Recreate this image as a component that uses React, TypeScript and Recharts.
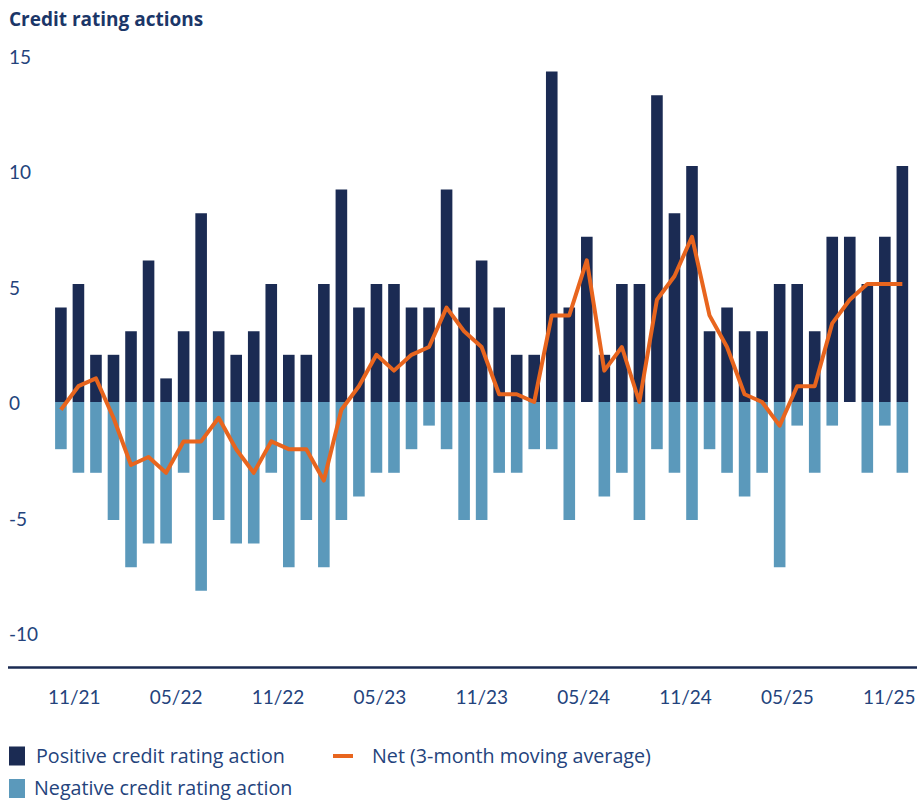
import React from 'react';
import { ComposedChart, Bar, Line, XAxis, YAxis } from 'recharts';

const months = [
  '11/21', '12/21',
  '01/22', '02/22', '03/22', '04/22', '05/22', '06/22', '07/22', '08/22', '09/22', '10/22', '11/22', '12/22',
  '01/23', '02/23', '03/23', '04/23', '05/23', '06/23', '07/23', '08/23', '09/23', '10/23', '11/23', '12/23',
  '01/24', '02/24', '03/24', '04/24', '05/24', '06/24', '07/24', '08/24', '09/24', '10/24', '11/24', '12/24',
  '01/25', '02/25', '03/25', '04/25', '05/25', '06/25', '07/25', '08/25', '09/25', '10/25', '11/25',
];

const positive = [
  4, 5, 2, 2, 3, 6, 1, 3, 8, 3,
  2, 3, 5, 2, 2, 5, 9, 4, 5, 5,
  4, 4, 9, 4, 6, 4, 2, 2, 14, 4,
  7, 2, 5, 5, 13, 8, 10, 3, 4, 3,
  3, 5, 5, 3, 7, 7, 5, 7, 10,
];

const negative = [
  -2, -3, -3, -5, -7, -6, -6, -3, -8, -5,
  -6, -6, -3, -7, -5, -7, -5, -4, -3, -3,
  -2, -1, -2, -5, -5, -3, -3, -2, -2, -5,
  0, -4, -3, -5, -2, -3, -5, -2, -3, -4,
  -3, -7, -1, -3, -1, 0, -3, -1, -3,
];

const netAverage = [
  -0.33, 0.67, 1.0, -0.67, -2.67, -2.33, -3.0, -1.67, -1.67, -0.67,
  -2.0, -3.0, -1.67, -2.0, -2.0, -3.33, -0.33, 0.67, 2.0, 1.33,
  2.0, 2.33, 4.0, 3.0, 2.33, 0.33, 0.33, 0.0, 3.67, 3.67,
  6.0, 1.33, 2.33, 0.0, 4.33, 5.33, 7.0, 3.67, 2.33, 0.33,
  0.0, -1.0, 0.67, 0.67, 3.33, 4.33, 5.0, 5.0, 5.0,
];

const yTickValues = [15, 10, 5, 0, -5, -10];

const data = months.map((m, i) => ({
  month: m,
  positive: positive[i],
  negative: negative[i],
  net: netAverage[i],
}));

const NAVY = '#1b2b53';
const LIGHT = '#5b99bb';
const ORANGE = '#e8651e';
const TEXT = '#24437c';
const TICK_FONT = 'Lato, "Open Sans", sans-serif';
const LABEL_FONT = '"Open Sans", Lato, sans-serif';

const YTick = (props: any) => (
  <text x={9} y={props.y + 7} fill={TEXT} fontSize={19} fontFamily={TICK_FONT} textAnchor="start">
    {props.payload.value}
  </text>
);

const XTick = (props: any) => (
  <text x={props.x} y={props.y + 36} fill={TEXT} fontSize={19} fontFamily={TICK_FONT} textAnchor="middle">
    {props.payload.value}
  </text>
);

export default function App() {
  return (
    <div style={{ position: 'absolute', left: 0, top: 0, width: 917, height: 801, background: '#fff', overflow: 'hidden' }}>
      <svg width={917} height={40} style={{ position: 'absolute', left: 0, top: 0 }}>
        <text x={9} y={26} fill="#1b3668" fontSize={19} fontWeight={700} fontFamily={LABEL_FONT}>
          Credit rating actions
        </text>
      </svg>
      <div style={{ position: 'absolute', left: 0, top: 0 }}>
        <ComposedChart
          width={917}
          height={720}
          data={data}
          stackOffset="sign"
          margin={{ top: 48, right: 0, bottom: 2.5, left: 6 }}
        >
          <XAxis xAxisId="main" dataKey="month" hide padding={{ left: 44.1, right: 5.9 }} />
          <XAxis
            xAxisId="lbl"
            dataKey="month"
            height={50}
            interval={5}
            padding={{ left: 57.8, right: 19.3 }}
            tickLine={false}
            tickSize={0}
            tickMargin={0}
            axisLine={{ stroke: NAVY, strokeWidth: 2.5 }}
            tick={<XTick />}
          />
          <YAxis yAxisId="main" hide domain={[-11.25, 15]} allowDataOverflow />
          <YAxis
            yAxisId="lbl"
            type="number"
            domain={[-11.45, 15.38]}
            allowDataOverflow
            ticks={yTickValues}
            interval={0}
            width={2}
            axisLine={false}
            tickLine={false}
            tick={<YTick />}
          />
          <Bar xAxisId="main" yAxisId="main" dataKey="positive" stackId="a" fill={NAVY} barSize={11.6} isAnimationActive={false} />
          <Bar xAxisId="main" yAxisId="main" dataKey="negative" stackId="a" fill={LIGHT} barSize={11.6} isAnimationActive={false} />
          <Line
            xAxisId="main"
            yAxisId="main"
            dataKey="net"
            type="linear"
            stroke={ORANGE}
            strokeWidth={4}
            strokeLinejoin="round"
            dot={false}
            activeDot={false}
            isAnimationActive={false}
          />
        </ComposedChart>
      </div>
      <svg width={917} height={81} style={{ position: 'absolute', left: 0, top: 720 }}>
        <rect x={9} y={26.5} width={16} height={19} fill={NAVY} />
        <text x={36} y={43} fill={TEXT} fontSize={19.7} fontFamily={LABEL_FONT}>Positive credit rating action</text>
        <rect x={333} y={34} width={20} height={4} fill={ORANGE} />
        <text x={372} y={43} fill={TEXT} fontSize={19.7} fontFamily={LABEL_FONT}>Net (3-month moving average)</text>
        <rect x={9} y={59} width={16} height={19} fill={LIGHT} />
        <text x={34} y={75} fill={TEXT} fontSize={19.7} fontFamily={LABEL_FONT}>Negative credit rating action</text>
      </svg>
    </div>
  );
}
